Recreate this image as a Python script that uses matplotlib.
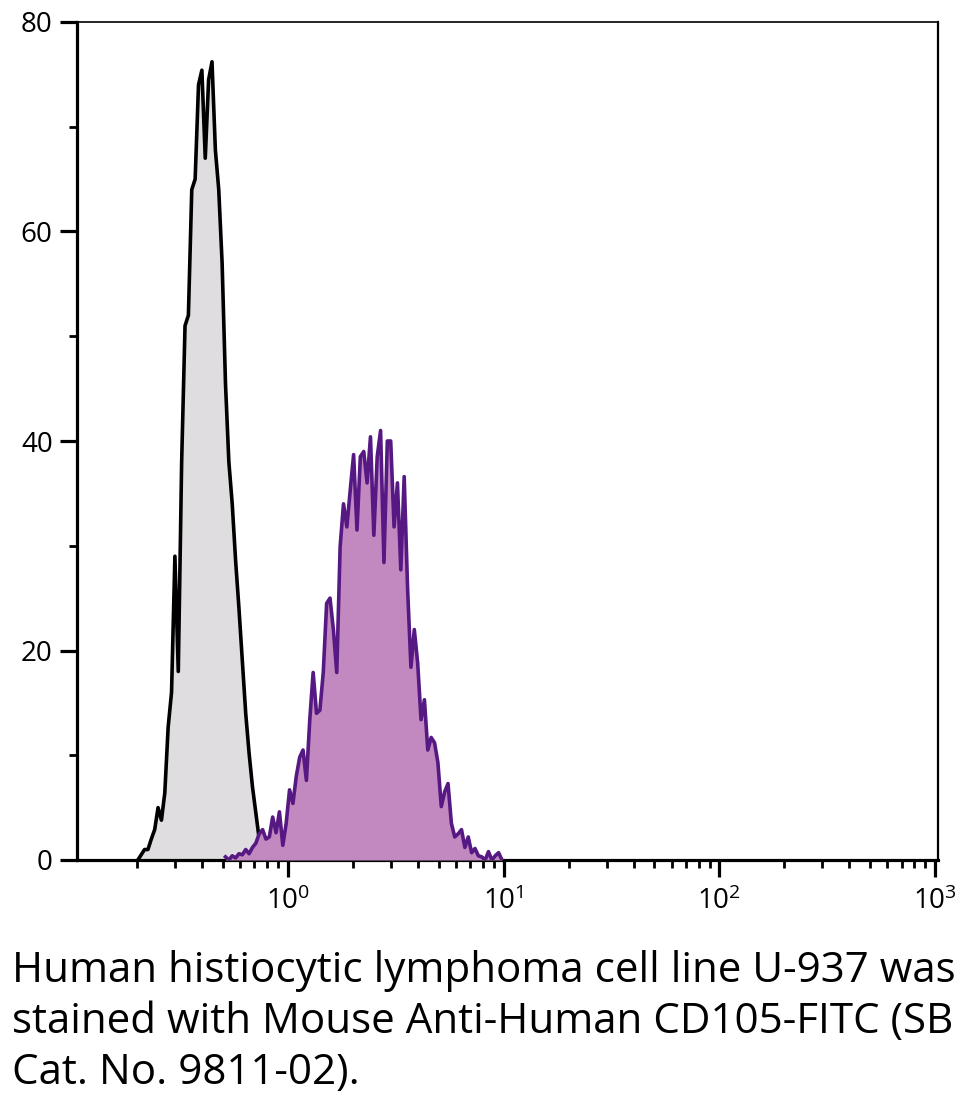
import numpy as np
import matplotlib
matplotlib.use("Agg")
import matplotlib.pyplot as plt
from matplotlib.ticker import FixedLocator, LogFormatterSciNotation, NullFormatter

# ---------------- data ----------------
channels_per_decade = 64          # histogram channels per decade
log_min = -1                      # channel 0 starts at 10^-1

# unstained control (gray), channels 19..56
gray_start = 19
gray_counts = [0, 0.5, 1.0, 1.0, 2.0, 2.9, 5.0, 3.8, 6.4, 12.7, 16, 29, 18, 38,
               51, 52, 64, 65, 74, 75.4, 67, 74.5, 76.2, 67.8, 64, 57, 45.5, 38,
               34, 28.6, 24, 19, 14, 10.2, 7, 4.5, 2, 0]

# CD105-FITC stained (purple), channels 45..127
purple_start = 45
purple_counts = [0.3, 0, 0.4, 0.2, 0.6, 0.5, 1.0, 0.6, 1.2, 1.6, 2.5, 2.9, 2.0,
                 2.2, 4.1, 2.6, 4.6, 1.4, 3.5, 6.7, 5.4, 8.0, 9.8, 10.5, 7.6,
                 13.4, 17.9, 14, 14.3, 17.9, 24.5, 25, 22, 17.9, 29.9, 34, 31.8,
                 35.3, 38.7, 31.5, 38.5, 39, 36, 40.4, 31, 38.5, 41, 28.4, 40,
                 40, 31.8, 36, 27.7, 36.6, 26, 18.4, 22, 18.8, 13.4, 15.3, 10.5,
                 11.7, 11.2, 9.3, 5.1, 6.5, 7.3, 3.5, 2.2, 2.5, 2.9, 1.2, 2.2,
                 0.7, 1.1, 0.4, 0.3, 0, 0.8, 0, 0.4, 0.7, 0]

y_major = [0, 20, 40, 60, 80]
y_minor = [10, 30, 50, 70]
x_major = [1, 10, 100, 1000]

caption = ("Human histiocytic lymphoma cell line U-937 was\n"
           "stained with Mouse Anti-Human CD105-FITC (SB\n"
           "Cat. No. 9811-02).")


def channel_centers(start, n):
    idx = np.arange(start, start + n) + 0.5
    return 10 ** (log_min + idx / channels_per_decade)


gray_x = channel_centers(gray_start, len(gray_counts))
purple_x = channel_centers(purple_start, len(purple_counts))

# ---------------- style ----------------
FONT = "Open Sans"
plt.rcParams["font.family"] = [FONT, "DejaVu Sans"]
plt.rcParams["mathtext.fontset"] = "custom"
plt.rcParams["mathtext.rm"] = FONT
plt.rcParams["mathtext.it"] = FONT
plt.rcParams["mathtext.bf"] = FONT

fig = plt.figure(figsize=(9.72, 11.0), dpi=100)
ax = fig.add_axes([77 / 972, 240 / 1100, (938 - 77) / 972, (860 - 22) / 1100])

ax.fill_between(gray_x, 0, gray_counts, color="#dfdddf", lw=0, zorder=1)
ax.plot(gray_x, gray_counts, color="black", lw=2.6, zorder=2)
ax.fill_between(purple_x, 0, purple_counts, color="#c189bf", lw=0, zorder=3)
ax.plot(purple_x, purple_counts, color="#561882", lw=2.6, zorder=4)

ax.set_xscale("log")
ax.set_xlim(0.1054, 1030)
ax.set_ylim(0, 80)

ax.xaxis.set_major_locator(FixedLocator(x_major))
minors = [m * 10.0 ** e for e in range(-1, 3) for m in range(2, 10)]
ax.xaxis.set_minor_locator(FixedLocator(minors))
ax.xaxis.set_major_formatter(LogFormatterSciNotation())
ax.xaxis.set_minor_formatter(NullFormatter())

ax.yaxis.set_major_locator(FixedLocator(y_major))
ax.yaxis.set_minor_locator(FixedLocator(y_minor))

for s in ["left", "bottom"]:
    ax.spines[s].set_linewidth(2.3)
ax.spines["top"].set_linewidth(1.2)
ax.spines["right"].set_linewidth(1.6)

ax.tick_params(axis="both", which="major", direction="out", length=12.5,
               width=2.3, labelsize=20, color="black")
ax.tick_params(axis="both", which="minor", direction="out", length=5.5,
               width=2.0, color="black")
ax.tick_params(axis="y", which="major", pad=5)
ax.tick_params(axis="x", which="major", pad=7)

fig.text(12 / 972, 1 - 950 / 1100, caption, ha="left", va="top",
         fontsize=30.3, linespacing=1.28, color="black")

fig.savefig("out.png", dpi=100, facecolor="white")
